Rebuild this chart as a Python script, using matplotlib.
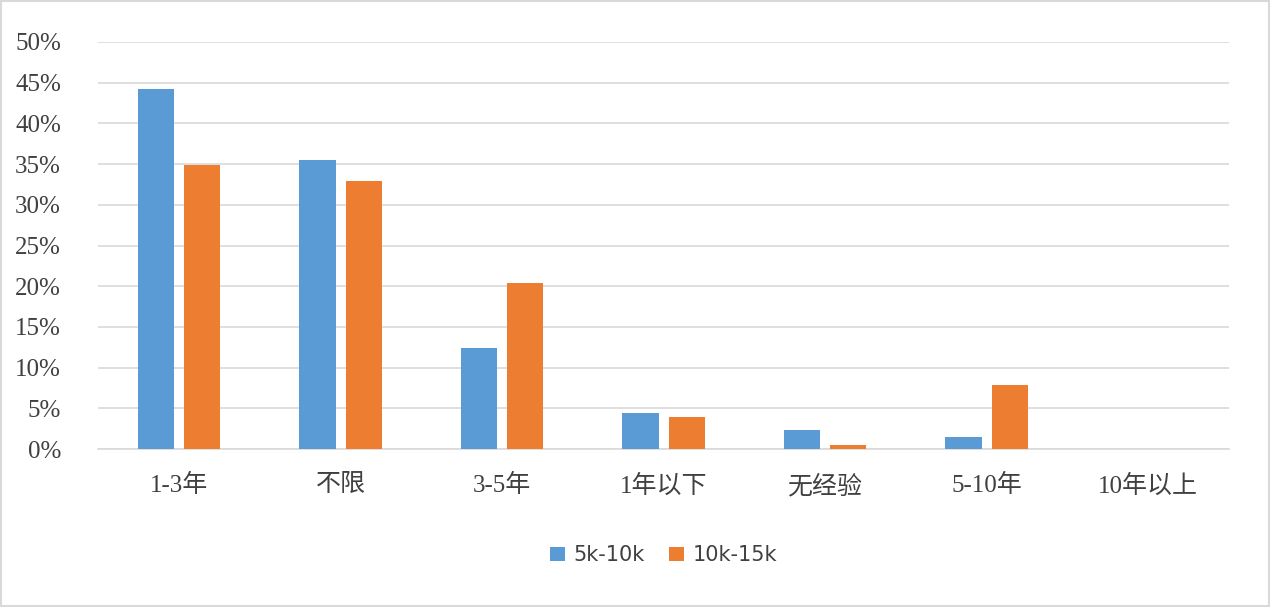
import matplotlib
matplotlib.use('Agg')
import matplotlib.pyplot as plt
import numpy as np
from matplotlib.ticker import PercentFormatter
from matplotlib.patches import Rectangle

plt.rcParams['font.family'] = ['Liberation Serif', 'Noto Sans CJK SC']

categories = ['1-3年', '不限', '3-5年', '1年以下', '无经验', '5-10年', '10年以上']
s_5_10 = [44.2, 35.5, 12.4, 4.4, 2.3, 1.5, 0.0]
s_10_15 = [34.9, 32.9, 20.4, 3.9, 0.5, 7.9, 0.0]

blue = '#5b9bd5'
orange = '#ed7d31'

fig = plt.figure(figsize=(12.7, 6.07), dpi=100)
ax = fig.add_axes([0.0775, 0.26, 0.89, 0.671])

x = np.arange(len(categories))
w = 0.224
ax.bar(x - 0.143, s_5_10, w, color=blue, label='5k-10k', zorder=3)
ax.bar(x + 0.143, s_10_15, w, color=orange, label='10k-15k', zorder=3)

ax.set_xlim(-0.5, len(categories) - 0.5)
ax.set_ylim(0, 50)
ax.set_yticks(range(0, 51, 5))
ax.yaxis.set_major_formatter(PercentFormatter(decimals=0))
ax.grid(axis='y', color='#d9d9d9', linewidth=1.2, zorder=0)
ax.set_xticks(x)
ax.set_xticklabels(categories)
ax.tick_params(axis='both', length=0, labelsize=18, colors='#404040')
ax.tick_params(axis='x', pad=18)
ax.tick_params(axis='y', pad=27)
for s in ['top', 'right', 'left']:
    ax.spines[s].set_visible(False)
ax.spines['bottom'].set_color('#d9d9d9')
ax.spines['bottom'].set_linewidth(1.2)

leg = ax.legend(loc='upper center', bbox_to_anchor=(0.5, -0.19), ncol=2, frameon=False,
                prop={'family': ['DejaVu Sans'], 'size': 15}, handlelength=0.7,
                handleheight=0.7, columnspacing=1.2, handletextpad=0.4)
for t in leg.get_texts():
    t.set_color('#404040')

fig.patches.append(Rectangle((0.001, 0.001), 0.998, 0.998, transform=fig.transFigure,
                             fill=False, edgecolor='#d9d9d9', linewidth=1.5))

fig.savefig('out.png', dpi=100)
